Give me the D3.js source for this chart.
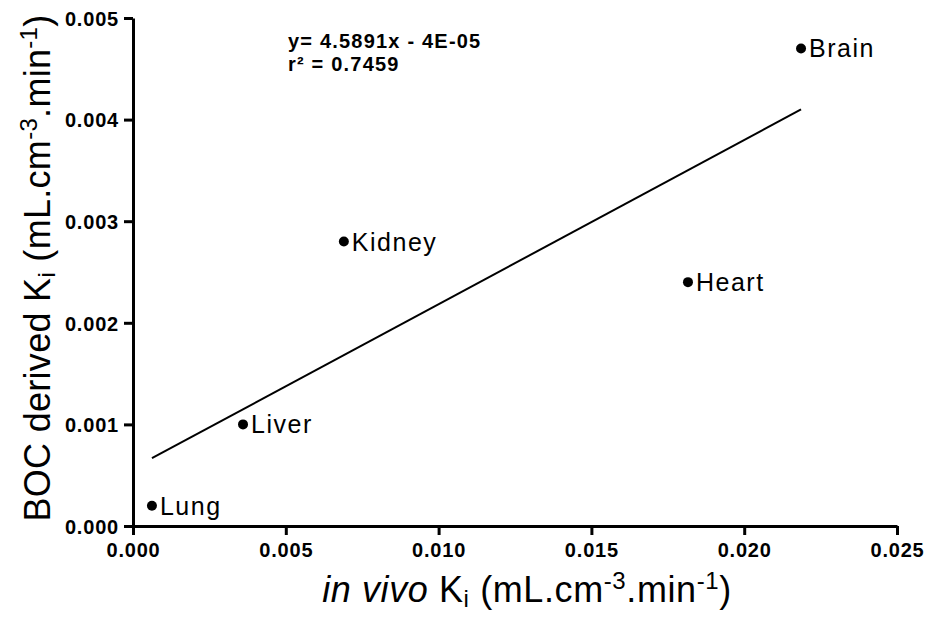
<!DOCTYPE html>
<html>
<head>
<meta charset="utf-8">
<script src="https://cdn.jsdelivr.net/npm/d3@7"></script>
<style>
  body { margin: 0; background: #fff; }
  text { font-family: "Liberation Sans", Arial, sans-serif; }
</style>
</head>
<body>
<svg id="chart" width="926" height="622"></svg>
<script>
// organ values
var organs = ["Lung", "Liver", "Kidney", "Heart", "Brain"];
var inVivoKi = [0.00062, 0.0036, 0.0069, 0.01816, 0.02186];
var bocKi = [0.0002, 0.001, 0.0028, 0.0024, 0.0047];
var xTicks = [0, 0.005, 0.01, 0.015, 0.02, 0.025];
var yTicks = [0, 0.001, 0.002, 0.003, 0.004, 0.005];
var fitText = ["y= 4.5891x - 4E-05", "r\u00B2 = 0.7459"];

var svg = d3.select("#chart");
var margin = { left: 133, right: 29, top: 18, bottom: 96 };
var W = 926, H = 622;

var x = d3.scaleLinear().domain([0, 0.025]).range([margin.left, W - margin.right]);
var y = d3.scaleLinear().domain([0, 0.005]).range([H - margin.bottom, margin.top]);

// x axis
var gx = svg.append("g")
  .attr("transform", "translate(0," + (H - margin.bottom) + ")")
  .call(d3.axisBottom(x).tickValues(xTicks).tickFormat(d3.format(".3f")).tickSize(9).tickSizeOuter(0));
// y axis
var gy = svg.append("g")
  .attr("transform", "translate(" + margin.left + ",0)")
  .call(d3.axisLeft(y).tickValues(yTicks).tickFormat(d3.format(".3f")).tickSize(9).tickSizeOuter(0));

[gx, gy].forEach(function (g) {
  g.attr("font-family", null).attr("font-size", null);
  g.select(".domain").attr("stroke", "#000").attr("stroke-width", 3);
  g.selectAll(".tick line").attr("stroke", "#000").attr("stroke-width", 3);
  g.selectAll(".tick text")
    .attr("fill", "#000")
    .style("font-size", "20px")
    .style("font-weight", "bold")
    .style("letter-spacing", "0.8px");
});
gx.selectAll(".tick text").attr("y", 13).attr("dy", "0.9em");
gy.selectAll(".tick text").attr("x", -14).attr("dy", "0.36em");

// least squares fit line over the data
var mx = d3.mean(inVivoKi), my = d3.mean(bocKi);
var sxy = d3.sum(inVivoKi, function (v, i) { return (v - mx) * (bocKi[i] - my); });
var sxx = d3.sum(inVivoKi, function (v) { return (v - mx) * (v - mx); });
var slope = sxy / sxx, icpt = my - slope * mx;
var xEnds = d3.extent(inVivoKi);
svg.append("line")
  .attr("x1", x(xEnds[0])).attr("y1", y(slope * xEnds[0] + icpt))
  .attr("x2", x(xEnds[1])).attr("y2", y(slope * xEnds[1] + icpt))
  .attr("stroke", "#000").attr("stroke-width", 2);

// points with labels
var pts = svg.selectAll("g.pt")
  .data(organs.map(function (o, i) { return { name: o, xv: inVivoKi[i], yv: bocKi[i] }; }))
  .enter().append("g").attr("class", "pt");
pts.append("circle")
  .attr("cx", function (d) { return x(d.xv); })
  .attr("cy", function (d) { return y(d.yv); })
  .attr("r", 5).attr("fill", "#000");
pts.append("text")
  .attr("x", function (d) { return x(d.xv) + 8; })
  .attr("y", function (d) { return y(d.yv); })
  .attr("dy", "0.36em")
  .style("font-size", "25px")
  .style("letter-spacing", "1.5px")
  .text(function (d) { return d.name; });

// equation
svg.selectAll("text.fit")
  .data(fitText).enter().append("text")
  .attr("class", "fit")
  .attr("x", 288)
  .attr("y", function (d, i) { return 48 + i * 23; })
  .style("font-size", "20px")
  .style("font-weight", "bold")
  .style("letter-spacing", "1.2px")
  .text(function (d) { return d; });

// x title
var xt = svg.append("text")
  .attr("x", 527)
  .attr("y", 602)
  .attr("text-anchor", "middle")
  .style("font-size", "36px")
  .style("letter-spacing", "0.6px");
xt.append("tspan").style("font-style", "italic").text("in vivo");
xt.append("tspan").text(" K");
xt.append("tspan").attr("baseline-shift", "-22%").style("font-size", "24px").text("i");
xt.append("tspan").text(" (mL.cm");
xt.append("tspan").attr("baseline-shift", "super").style("font-size", "24px").text("-3");
xt.append("tspan").text(".min");
xt.append("tspan").attr("baseline-shift", "super").style("font-size", "24px").text("-1");
xt.append("tspan").text(")");

// y title
var yt = svg.append("text")
  .attr("transform", "translate(50,268) rotate(-90)")
  .attr("text-anchor", "middle")
  .style("font-size", "36px")
  .style("letter-spacing", "0.3px");
yt.append("tspan").text("BOC derived K");
yt.append("tspan").attr("baseline-shift", "-22%").style("font-size", "24px").text("i");
yt.append("tspan").text(" (mL.cm");
yt.append("tspan").attr("baseline-shift", "super").style("font-size", "24px").text("-3");
yt.append("tspan").text(".min");
yt.append("tspan").attr("baseline-shift", "super").style("font-size", "24px").text("-1");
yt.append("tspan").text(")");
</script>
</body>
</html>
